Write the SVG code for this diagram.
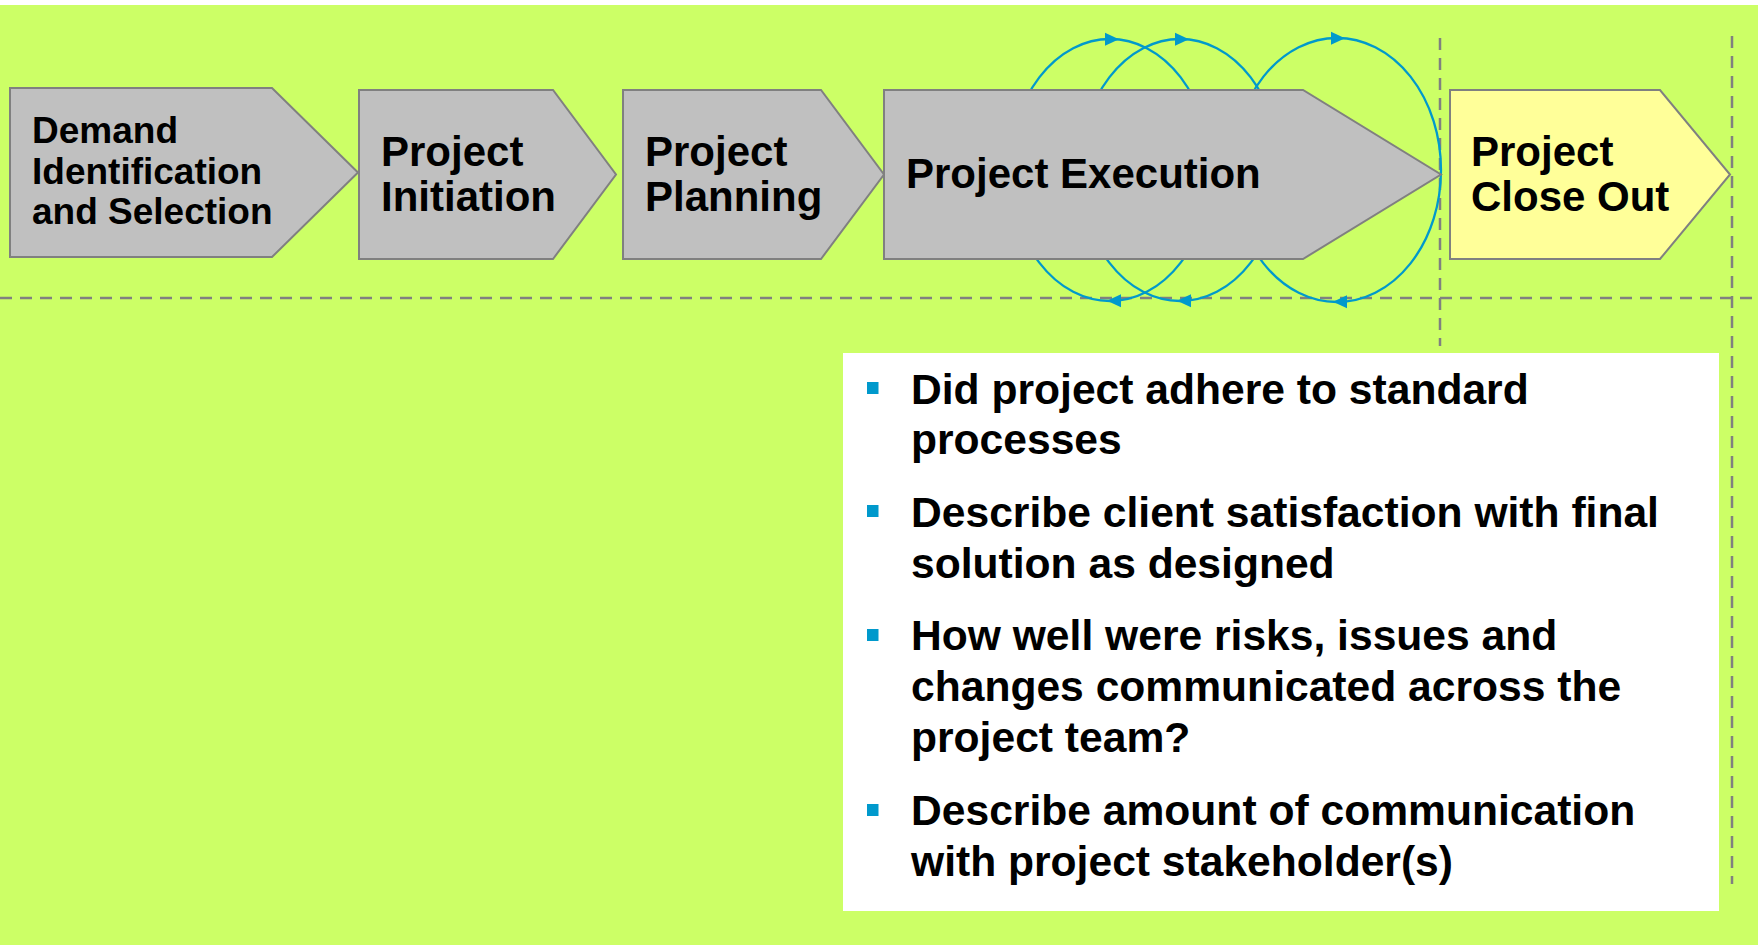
<svg xmlns="http://www.w3.org/2000/svg" xmlns:xlink="http://www.w3.org/1999/xlink" width="1758" height="945" viewBox="0 0 1758 945">
<style>
.bg{fill:#CCFF66}
.node{fill:#C0C0C0;stroke:#808080;stroke-width:2}
.close{fill:#FFFF99;stroke:#808080;stroke-width:2}
.lbl{font-family:"Liberation Sans",Arial,Helvetica,sans-serif;font-weight:bold;fill:#000}
.dash{stroke:#808080;stroke-width:2.5;stroke-dasharray:12 8;fill:none}
.loop{fill:none;stroke:#0099CC;stroke-width:2.3}
.ah{fill:#0099CC}
.bul{fill:#0099CC}
.bt{font-family:"Liberation Sans",Arial,Helvetica,sans-serif;font-weight:bold;font-size:42.6px;fill:#000}
</style>
<defs>
<path id="ahR" d="M0,0 L-14,-6.5 L-14,6.5 Z"/>
<path id="ahL" d="M0,0 L14,-6.5 L14,6.5 Z"/>
</defs>
<rect x="0" y="0" width="1758" height="945" fill="#FFFFFF"/>
<rect class="bg" x="0" y="5" width="1758" height="940"/>
<g id="guides">
<line class="dash" x1="0" y1="298" x2="1758" y2="298"/>
<line class="dash" x1="1440" y1="38" x2="1440" y2="346"/>
<line class="dash" x1="1732" y1="36" x2="1732" y2="884"/>
</g>
<g id="connectors">
<ellipse class="loop" cx="1110" cy="170" rx="100" ry="131"/>
<ellipse class="loop" cx="1180" cy="170" rx="100" ry="131"/>
<ellipse class="loop" cx="1337" cy="170" rx="104" ry="132"/>
<use xlink:href="#ahR" href="#ahR" class="ah" x="1119" y="39.3"/>
<use xlink:href="#ahR" href="#ahR" class="ah" x="1189" y="39.3"/>
<use xlink:href="#ahR" href="#ahR" class="ah" x="1345" y="38.3"/>
<use xlink:href="#ahL" href="#ahL" class="ah" x="1107" y="300.8"/>
<use xlink:href="#ahL" href="#ahL" class="ah" x="1177" y="300.8"/>
<use xlink:href="#ahL" href="#ahL" class="ah" x="1333" y="301.8"/>
</g>
<g id="node-demand">
<polygon class="node" points="10,88 272,88 358,172.5 272,257 10,257"/>
<text class="lbl" font-size="37" x="32" y="143">Demand</text>
<text class="lbl" font-size="37" x="32" y="184">Identification</text>
<text class="lbl" font-size="37" x="32" y="224">and Selection</text>
</g>
<g id="node-initiation">
<polygon class="node" points="359,90 553,90 616,174.5 553,259 359,259"/>
<text class="lbl" font-size="42" x="381" y="166">Project</text>
<text class="lbl" font-size="42" x="381" y="211">Initiation</text>
</g>
<g id="node-planning">
<polygon class="node" points="623,90 821,90 884,174.5 821,259 623,259"/>
<text class="lbl" font-size="42" x="645" y="166">Project</text>
<text class="lbl" font-size="42" x="645" y="211">Planning</text>
</g>
<g id="node-execution">
<polygon class="node" points="884,90 1303,90 1441,174.5 1303,259 884,259"/>
<text class="lbl" font-size="42" x="906" y="188">Project Execution</text>
</g>
<g id="node-closeout">
<polygon class="close" points="1450,90 1660,90 1730,174.5 1660,259 1450,259"/>
<text class="lbl" font-size="42" x="1471" y="166">Project</text>
<text class="lbl" font-size="42" x="1471" y="211">Close Out</text>
</g>
<g id="questions">
<rect x="843" y="353" width="876" height="558" fill="#FFFFFF"/>
<rect class="bul" x="867" y="382" width="11.5" height="12"/>
<text class="bt" x="911" y="404">Did project adhere to standard</text>
<text class="bt" x="911" y="454">processes</text>
<rect class="bul" x="867" y="505" width="11.5" height="12"/>
<text class="bt" x="911" y="527">Describe client satisfaction with final</text>
<text class="bt" x="911" y="578">solution as designed</text>
<rect class="bul" x="867" y="629" width="11.5" height="12"/>
<text class="bt" x="911" y="650">How well were risks, issues and</text>
<text class="bt" x="911" y="701">changes communicated across the</text>
<text class="bt" x="911" y="752">project team?</text>
<rect class="bul" x="867" y="804" width="11.5" height="12"/>
<text class="bt" x="911" y="825">Describe amount of communication</text>
<text class="bt" x="911" y="876">with project stakeholder(s)</text>
</g>
</svg>
